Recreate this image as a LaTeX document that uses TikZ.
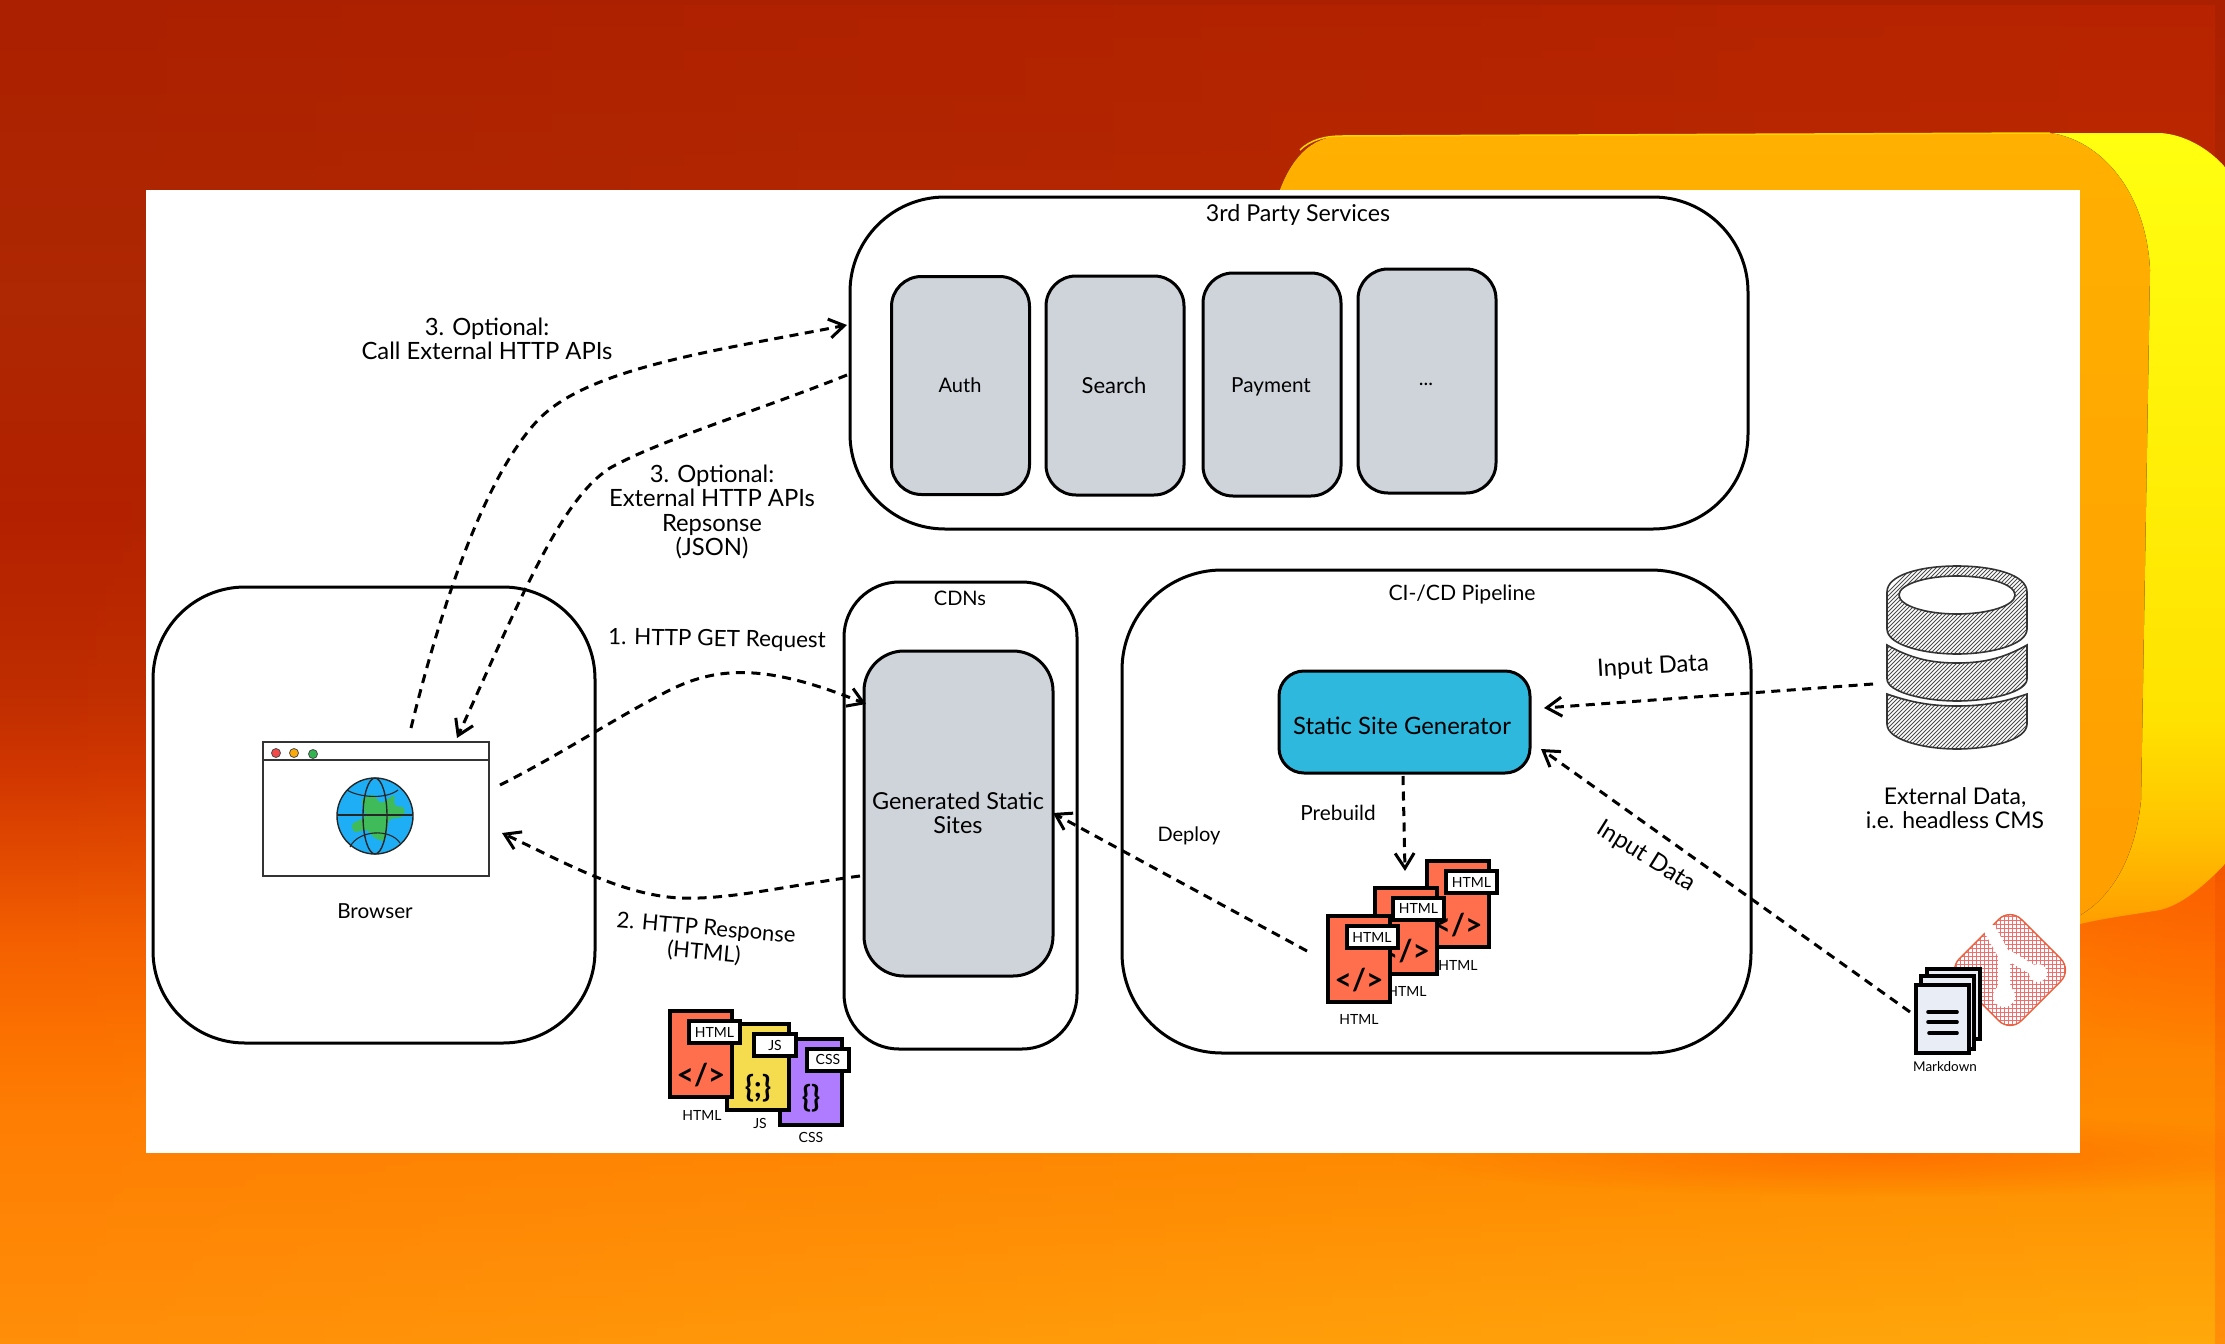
\documentclass[tikz,border=0pt]{standalone}
\usepackage{fontspec}
\setmainfont{Lato}
\usetikzlibrary{arrows.meta,fadings,shadings}
\definecolor{boxgray}{HTML}{CED4DA}
\definecolor{ssgblue}{HTML}{2FB8DE}
\definecolor{htmlred}{HTML}{FF6F4D}
\definecolor{jsyellow}{HTML}{F4DC4E}
\definecolor{csspurple}{HTML}{B07CFF}
\definecolor{mdpaper}{HTML}{E8EDF6}
\definecolor{gitred}{HTML}{E8603C}
\definecolor{gitpink}{HTML}{F06E6E}
\definecolor{globeblue}{HTML}{1EAEF5}
\definecolor{globegreen}{HTML}{40BB5A}
\pgfdeclareverticalshading{bgleft}{100bp}{
 color(0bp)=(rgb,255:red,255;green,142;blue,8);
 color(25bp)=(rgb,255:red,255;green,142;blue,8);
 color(33.6bp)=(rgb,255:red,254;green,125;blue,4);
 color(36.7bp)=(rgb,255:red,251;green,112;blue,0);
 color(39.9bp)=(rgb,255:red,244;green,96;blue,0);
 color(43.1bp)=(rgb,255:red,226;green,74;blue,0);
 color(46.3bp)=(rgb,255:red,208;green,54;blue,0);
 color(49.5bp)=(rgb,255:red,190;green,44;blue,0);
 color(55.9bp)=(rgb,255:red,178;green,32;blue,0);
 color(63.8bp)=(rgb,255:red,174;green,40;blue,4);
 color(75bp)=(rgb,255:red,171;green,32;blue,0);
 color(100bp)=(rgb,255:red,171;green,32;blue,0)}
\pgfdeclareverticalshading{bgright}{100bp}{
 color(0bp)=(rgb,255:red,255;green,170;blue,12);
 color(25bp)=(rgb,255:red,255;green,170;blue,12);
 color(32.2bp)=(rgb,255:red,255;green,144;blue,0);
 color(39.7bp)=(rgb,255:red,255;green,124;blue,0);
 color(46.3bp)=(rgb,255:red,232;green,80;blue,0);
 color(55.9bp)=(rgb,255:red,192;green,48;blue,0);
 color(75bp)=(rgb,255:red,184;green,36;blue,0);
 color(100bp)=(rgb,255:red,184;green,36;blue,0)}
\pgfdeclareverticalshading{sidewall}{100bp}{
 color(0bp)=(rgb,255:red,255;green,158;blue,0);
 color(25bp)=(rgb,255:red,255;green,158;blue,0);
 color(31bp)=(rgb,255:red,255;green,196;blue,0);
 color(38bp)=(rgb,255:red,255;green,226;blue,0);
 color(75bp)=(rgb,255:red,255;green,255;blue,16);
 color(100bp)=(rgb,255:red,255;green,255;blue,16)}
\tikzfading[name=lrfade,left color=transparent!100,right color=transparent!0]
\tikzfading[name=softblob,inner color=transparent!0,outer color=transparent!100]
\tikzset{
 x=1pt,y=-1pt,
 box/.style={draw=black,line width=3pt,inner sep=0pt,rounded corners=#1},
 grey/.style={box=30pt,fill=boxgray,minimum width=138pt,minimum height=218pt},
 lab/.style={font=\fontsize{#1}{24.5}\selectfont,align=center,inner sep=0pt,text=black},
 lab/.default=20,
 small/.style={font=\fontsize{14}{16}\selectfont,inner sep=0pt,text=black},
 flow/.style={draw=black,line width=3pt,dash pattern=on 9pt off 6.5pt,
   -{Straight Barb[length=15pt,width=19pt,line width=3pt]}},
 page/.style={draw=black,line width=4pt,fill=#1,minimum width=62pt,minimum height=86pt,inner sep=0pt},
 tag/.style={draw=black,line width=4pt,fill=white,inner sep=0pt,minimum height=22pt,
   font=\fontsize{14}{16}\selectfont},
 glyph/.style={font=\fontsize{30}{30}\selectfont\bfseries,inner sep=0pt},
 hatch/.style={draw=black!70,line width=.9pt},
 dbedge/.style={draw=black!80,line width=1.6pt},
 sheet/.style={draw=black,line width=4pt,fill=mdpaper},
 mdline/.style={draw=black,line width=3.6pt,line cap=round}
}
% id, page centre x, y, colour, tag text, tag width, tag centre dx, glyph, glyph dy
\newcommand{\docpage}[9]{%
 \node[page=#4] (#1page) at (#2,#3) {};
 \node[glyph] (#1glyph) at (#2,#3+#9) {#8};
 \node[tag,minimum width=#6pt] (#1tag) at (#2+#7,#3-22) {#5};
}
\newcommand{\dbhatch}[1]{%
 \begin{scope}
 \clip #1;
 \foreach \i in {1700,1704,...,2080} {\draw[hatch] (\i,780) -- (\i+240,540);}
 \end{scope}
 \draw[dbedge] #1;
}
\begin{document}
\begin{tikzpicture}
\useasboundingbox (0,0) rectangle (2225,1344);
% backdrop
\shade[shading=bgleft] (0,0) rectangle (2225,1344);
\shade[shading=bgright,path fading=lrfade] (0,0) rectangle (2225,1344);
\fill[color={rgb,255:red,255;green,96;blue,0},path fading=softblob,opacity=.7] (2210,900) ellipse [x radius=230pt,y radius=150pt];
\fill[color={rgb,255:red,255;green,96;blue,0},path fading=softblob,opacity=.6] (1880,1155) ellipse [x radius=480pt,y radius=42pt];
\shade[shading=sidewall]
  (2040,133) -- (2161,133) .. controls (2185,135) and (2208,148) .. (2225,167) -- (2225,864)
  .. controls (2200,890) and (2180,905) .. (2160,910) .. controls (2130,915) and (2105,918) .. (2080,924) -- (2040,900) -- cycle;
\fill[top color={rgb,255:red,255;green,176;blue,0},bottom color={rgb,255:red,255;green,158;blue,0}]
  (1278,195) .. controls (1290,160) and (1310,136) .. (1342,136) -- (2050,133)
  .. controls (2100,140) and (2146,190) .. (2150,270) -- (2141,800)
  .. controls (2135,860) and (2110,900) .. (2075,918) -- (1278,918) -- cycle;
\draw[color={rgb,255:red,255;green,214;blue,0},line width=1.5pt] (1300,150) .. controls (1310,140) and (1325,136) .. (1342,136) -- (2050,133);
% white panel
\fill[white] (146,190) rectangle (2080,1153);

% containers
\node[box=95pt,minimum width=898pt,minimum height=332pt] (third) at (1299,363) {};
\node[lab=23.2] (thirdT) at (1298,215) {3rd Party Services};
\node[grey] (auth) at (960.5,385.5) {};
\node[lab] (authT) at (960,385) {Auth};
\node[grey,minimum height=219pt] (search) at (1115,385.5) {};
\node[lab=22] (searchT) at (1114,385) {Search};
\node[grey,minimum height=223pt] (pay) at (1272,384.5) {};
\node[lab=20.7] (payT) at (1271,387) {Payment};
\node[grey,minimum height=224pt] (more) at (1427,381) {};
\node[lab] (moreT) at (1426,384) {...};

\node[box=92pt,minimum width=442pt,minimum height=456pt] (browser) at (374,815) {};
\node[box=55pt,minimum width=233pt,minimum height=467pt] (cdn) at (960.5,815.5) {};
\node[lab] (cdnT) at (960,598) {CDNs};
\node[box=40pt,fill=boxgray,minimum width=189pt,minimum height=325pt] (gen) at (958.5,813.5) {};
\node[lab=23.4] (genT) at (958,813) {Generated Static\\Sites};
\node[box=100pt,minimum width=629pt,minimum height=483pt] (ci) at (1436.5,811.5) {};
\node[lab=21.2] (ciT) at (1462,595) {CI-/CD Pipeline};
\node[box=25pt,fill=ssgblue,minimum width=251pt,minimum height=102pt] (ssg) at (1404.5,722) {};
\node[lab=23.9] (ssgT) at (1402,726) {Static Site Generator};

% browser window
\node[draw=black!80,line width=2pt,fill=white,minimum width=226pt,minimum height=134pt,inner sep=0pt] (win) at (376,809) {};
\draw[draw=black!80,line width=2pt] (263,760) -- (489,760);
\fill[color={rgb,255:red,245;green,72;blue,72},draw=black!70,line width=.8pt] (276,753) circle [radius=4.5pt];
\fill[color={rgb,255:red,250;green,170;blue,10},draw=black!70,line width=.8pt] (294,753) circle [radius=4.5pt];
\fill[color={rgb,255:red,50;green,180;blue,80},draw=black!70,line width=.8pt] (313,754) circle [radius=4.5pt];
\fill[globeblue] (375,816) circle [radius=38pt];
\fill[globegreen,rounded corners=3.5pt] (361,799) -- (373,794) -- (381,804) -- (395,794) -- (394,806) -- (405,807) -- (404,817) -- (389,819) -- (385,842) -- (374,838) -- (367,829) -- (354,833) -- (351,824) -- (366,817) -- cycle;
\draw[black!85,line width=1.4pt] (375,816) circle [radius=38pt];
\draw[black!85,line width=1.4pt] (375,816) ellipse [x radius=12pt,y radius=38pt];
\draw[black!85,line width=1.4pt] (337,815) -- (413,815);
\draw[black!85,line width=1.1pt] (347,790) .. controls (358,797) and (385,800) .. (398,790);
\draw[black!85,line width=1.1pt] (350,847) .. controls (358,830) and (390,828) .. (400,843);
\node[lab=20.7] (browserT) at (375,911) {Browser};

% file stack beneath the CDNs
\node[small] (htmlL) at (702,1115) {HTML};
\node[small] (jsL) at (760,1123) {JS};
\node[small] (cssL) at (811,1137) {CSS};
\docpage{c}{811}{1081.5}{csspurple}{CSS}{42}{17}{\{\}}{17}
\docpage{j}{758}{1067}{jsyellow}{JS}{42}{17}{\{;\}}{21}
\docpage{h}{701}{1054}{htmlred}{HTML}{51}{13.5}{</>}{21}

% HTML stack in the pipeline
\node[small] (p1L) at (1458,965) {HTML};
\node[small] (p2L) at (1407,991) {HTML};
\node[small] (p3L) at (1359,1019) {HTML};
\docpage{a}{1458}{904}{htmlred}{HTML}{51}{13.5}{</>}{21}
\docpage{b}{1405.5}{930.5}{htmlred}{HTML}{51}{13}{</>}{21}
\docpage{e}{1359}{959}{htmlred}{HTML}{51}{13}{</>}{21}

% database
\dbhatch{(1887,592) .. controls (1887,575) and (1920,566) .. (1957,566) .. controls (1994,566) and (2027,575) .. (2027,592) -- (2027,629) .. controls (2027,645) and (1990,654) .. (1957,654) .. controls (1924,654) and (1887,645) .. (1887,629) -- cycle}
\fill[white,draw=black!80,line width=1.6pt] (1957,595) ellipse [x radius=58pt,y radius=19pt];
\dbhatch{(1887,645) .. controls (1910,658) and (1930,663) .. (1957,663) .. controls (1984,663) and (2004,658) .. (2027,645) -- (2027,679) .. controls (2027,692) and (1990,701) .. (1957,701) .. controls (1924,701) and (1887,692) .. (1887,679) -- cycle}
\dbhatch{(1887,694) .. controls (1910,702) and (1930,706) .. (1957,706) .. controls (1984,706) and (2004,702) .. (2027,694) -- (2027,724) .. controls (2027,740) and (1990,749) .. (1957,749) .. controls (1924,749) and (1887,740) .. (1887,724) -- cycle}
\node[lab=23] (dbT) at (1955,808) {External Data,\\i.e. headless CMS};

% git logo
\begin{scope}
\clip[rounded corners=16pt] (2010,908) -- (2072,970) -- (2010,1032) -- (1948,970) -- cycle;
\foreach \i in {-150,-146,...,150} {
 \draw[color=gitpink,line width=.7pt] (2010+\i,910) -- (2010+\i,1030);
 \draw[color=gitpink,line width=.7pt] (1950,970+\i) -- (2070,970+\i);
}
\end{scope}
\draw[draw=gitred,line width=1.4pt,rounded corners=16pt] (2010,908) -- (2072,970) -- (2010,1032) -- (1948,970) -- cycle;
\draw[white,line width=12pt,line cap=round] (1990,930) -- (2004,955) -- (2004,996);
\draw[white,line width=10pt,line cap=round] (2008,955) -- (2038,973);
\fill[white] (2004,996) circle [radius=11pt];
\fill[white] (2038,973) circle [radius=9pt];
% markdown sheets
\draw[sheet] (1927,969) rectangle (1980,1039);
\draw[sheet] (1921,976) rectangle (1974,1049);
\draw[sheet] (1916,985) rectangle (1969,1053);
\draw[mdline] (1928,1012) -- (1957,1012);
\draw[mdline] (1928,1022) -- (1957,1022);
\draw[mdline] (1929,1033) -- (1957,1033);
\node[small,font=\fontsize{13.5}{14}\selectfont] (mdT) at (1945,1067) {Markdown};

% connector ends
\coordinate (callS) at (411,728);
\coordinate (callE) at (847,325);
\coordinate (respS) at (847,375);
\coordinate (respE) at (457,738);
\coordinate (getS) at (500,785);
\coordinate (getE) at (866,704);
\coordinate (htmlS) at (860,876);
\coordinate (htmlE) at (502,833);
\coordinate (depS) at (1307,951);
\coordinate (depE) at (1053,813);
\coordinate (preS) at (1403,776);
\coordinate (preE) at (1405,871);
\coordinate (dbS) at (1873,684);
\coordinate (dbE) at (1544,708);
\coordinate (mdS) at (1910,1012);
\coordinate (mdE) at (1541,749);

\draw[flow] (callS) .. controls (435,630) and (480,480) .. (539,419) .. controls (590,367) and (720,350) .. (callE);
\draw[flow] (respS) .. controls (760,410) and (660,440) .. (610,468) .. controls (560,500) and (520,600) .. (respE);
\draw[flow] (getS) .. controls (560,755) and (620,715) .. (670,690) .. controls (720,665) and (770,665) .. (getE);
\draw[flow] (htmlS) .. controls (790,885) and (730,900) .. (680,898) .. controls (620,895) and (560,860) .. (htmlE);
\draw[flow] (depS) -- (depE);
\draw[flow] (preS) -- (preE);
\draw[flow] (dbS) -- (dbE);
\draw[flow] (mdS) -- (mdE);

% connector labels
\node[lab=23.8] (l1) at (487,339) {3. Optional:\\Call External HTTP APIs};
\node[lab=23.8] (l2) at (712,512) {3. Optional:\\External HTTP APIs\\Repsonse\\(JSON)};
\node[lab=22.5,rotate=-1] (l3) at (717,640) {1. HTTP GET Request};
\node[lab=22,rotate=-5] (l4) at (705,941) {2. HTTP Response\\(HTML)};
\node[lab] (l5) at (1189,836) {Deploy};
\node[lab=20.8] (l6) at (1338,813) {Prebuild};
\node[lab=24,rotate=3] (l7) at (1653,667) {Input Data};
\node[lab=24,rotate=-32] (l8) at (1646,857) {Input Data};
\end{tikzpicture}
\end{document}
